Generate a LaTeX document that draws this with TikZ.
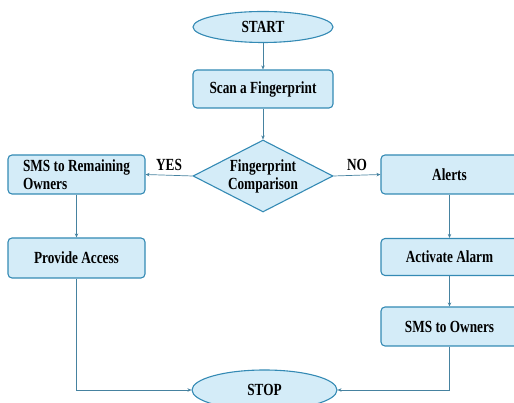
\documentclass[tikz,border=0pt]{standalone}
\usepackage{fontspec}
\newfontfamily\boxfont[FakeStretch=0.78]{Liberation Serif}
\usepackage{tikz}
\usetikzlibrary{
  positioning,
  arrows.meta,
  shapes.geometric
}
\definecolor{boxfill}{RGB}{212,236,248}
\definecolor{boxline}{RGB}{52,138,180}
\definecolor{linkline}{RGB}{70,130,160}
\tikzstyle{base}=[draw=boxline, fill=boxfill, line width=1.1pt, font=\boxfont\bfseries\fontsize{17}{19}\selectfont, inner sep=0pt]
\tikzstyle{stepbox}=[base, rectangle, rounded corners=4pt, minimum width=137pt, minimum height=39pt]
\tikzstyle{terminal}=[base, ellipse, minimum width=140pt, minimum height=31pt]
\tikzstyle{decision}=[base, diamond, aspect=1.95, minimum width=140pt, minimum height=72pt, align=center]
\tikzstyle{link}=[-{Stealth[length=4pt,width=3.5pt]}, draw=linkline, line width=0.7pt]
\tikzstyle{tag}=[font=\boxfont\bfseries\fontsize{17}{19}\selectfont]

\begin{document}
\begin{tikzpicture}[x=1pt,y=1pt]
    \useasboundingbox (0,0) rectangle (514,403);
    \clip (0,0) rectangle (514,403);

    % TERMINALS
    \node[terminal] (start) at (263,376) {START};
    \node[terminal, minimum width=145pt, minimum height=40pt] (stop) at (264.5,13) {STOP};

    % MAIN COLUMN
    \node[stepbox, minimum width=140pt, minimum height=38pt] (scan) at (263,314) {Scan a Fingerprint};
    \node[decision] (cmp) at (263,227) {Fingerprint\\[-1pt]Comparison};

    % YES BRANCH
    \node[stepbox, align=left] (smsrem) at (76.5,228.5) {SMS to Remaining\\[-1pt]Owners};
    \node[stepbox, minimum height=40pt] (access) at (76.5,145) {Provide Access};

    % NO BRANCH
    \node[stepbox] (alerts) at (449.5,228.5) {Alerts};
    \node[stepbox, minimum height=37pt] (alarm) at (449.5,146) {Activate Alarm};
    \node[stepbox] (smsown) at (449.5,76.5) {SMS to Owners};

    % CONNECTORS
    \draw[link] (start) -- (scan);
    \draw[link] (scan) -- (cmp);
    \draw[link] (cmp.west) -- (smsrem.east) node[tag, midway, above=1pt] (yes) {YES};
    \draw[link] (cmp.east) -- (alerts.west) node[tag, midway, above=1pt] (no) {NO};
    \draw[link] (smsrem) -- (access);
    \draw[link] (alerts) -- (alarm);
    \draw[link] (alarm) -- (smsown);
    \draw[link] (access.south) |- (stop.west);
    \draw[link] (smsown.south) |- (stop.east);
\end{tikzpicture}
\end{document}
